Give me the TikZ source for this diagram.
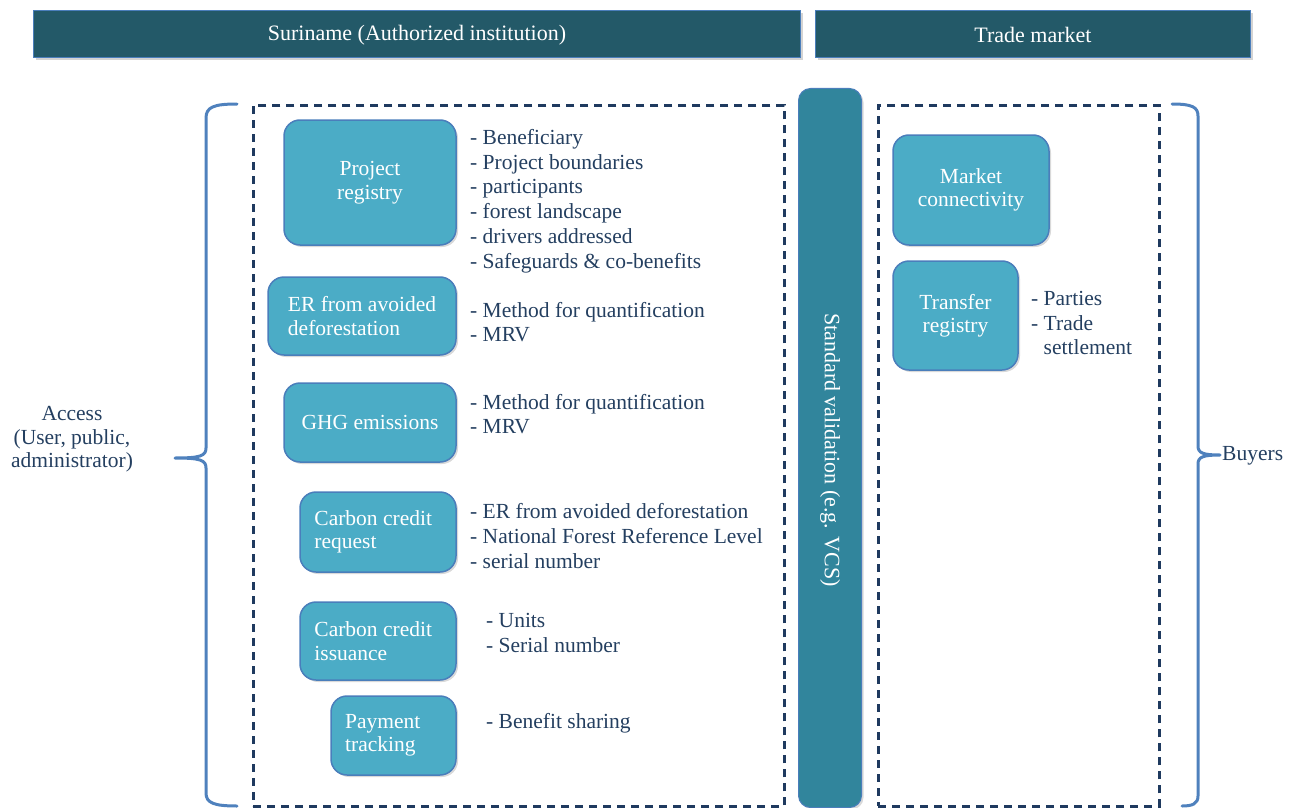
\documentclass[tikz,border=0pt]{standalone}
\usepackage{fontspec}
\setmainfont{Liberation Serif}
\usetikzlibrary{shadows}
\definecolor{hdr}{HTML}{235968}
\definecolor{bar}{HTML}{31859C}
\definecolor{boxfill}{HTML}{4BACC6}
\definecolor{boxline}{HTML}{4A7EBB}
\definecolor{navy}{HTML}{243F60}
\definecolor{brace}{HTML}{4F81BD}
\definecolor{dash}{HTML}{1F3A5F}
\tikzset{
  hdrbar/.style={draw=boxline, line width=1pt, fill=hdr, text=white, anchor=north west, inner sep=0pt,
    drop shadow={opacity=0.35, shadow xshift=2pt, shadow yshift=-3pt}},
  hdrtext/.style={text=white, inner sep=0pt, font=\fontsize{22}{26}\selectfont},
  itembox/.style={draw=boxline, line width=1.5pt, fill=boxfill, rounded corners=16pt, text=white, inner sep=0pt,
    font=\fontsize{21.5}{23.5}\selectfont, drop shadow={opacity=0.3, shadow xshift=2pt, shadow yshift=-2pt}},
  itemlist/.style={anchor=west, align=left, text=navy, inner sep=0pt, font=\fontsize{21.5}{24.8}\selectfont},
  dashbox/.style={draw=dash, line width=2.5pt, dash pattern=on 8pt off 6pt},
  bracepath/.style={draw=brace, line width=3pt, line cap=round, line join=round},
  sidelabel/.style={text=navy, align=center, inner sep=0pt, font=\fontsize{21.5}{23.5}\selectfont},
}
\begin{document}
\begin{tikzpicture}[x=1pt,y=-1pt]
\useasboundingbox (0,0) rectangle (1299,808);
% headers
\node[hdrbar, minimum width=767pt, minimum height=47pt] (h1) at (33,10) {};
\node[hdrtext] (h1t) at ([yshift=-1pt]h1.center) {Suriname (Authorized institution)};
\node[hdrbar, minimum width=435pt, minimum height=47pt] (h2) at (815,10) {};
\node[hdrtext] (h2t) at ([yshift=-1pt]h2.center) {Trade market};
% dashed frames
\node[dashbox, anchor=north west, minimum width=531pt, minimum height=701pt, inner sep=0pt] (lf) at (252,104) {};
\node[dashbox, anchor=north west, minimum width=281pt, minimum height=701pt, inner sep=0pt] (rf) at (877,104) {};
% vertical bar
\node[draw=boxline, line width=1pt, fill=bar, rounded corners=12pt, anchor=north west, minimum width=63pt, minimum height=719pt, inner sep=0pt,
  drop shadow={opacity=0.3, shadow xshift=2pt, shadow yshift=-2pt}] (vb) at (798,88) {};
\node[rotate=-90, hdrtext] (vbt) at (830,450) {Standard validation (e.g. VCS)};
% left boxes
\node[itembox, minimum width=172pt, minimum height=125pt, align=center] (pr) at (370,182.5) {Project\\registry};
\node[itembox, minimum width=188pt, minimum height=78pt, align=left] (er) at (362,316) {ER from avoided\\deforestation\phantom{ a}};
\node[itembox, minimum width=172pt, minimum height=79pt, align=center] (ghg) at (370,422.5) {GHG emissions};
\node[itembox, minimum width=156pt, minimum height=80pt, align=left] (ccr) at (378,532) {Carbon credit\\request\phantom{p credit}};
\node[itembox, minimum width=156pt, minimum height=78pt, align=left] (cci) at (378,641) {Carbon credit\\issuance\phantom{ credit}};
\node[itembox, minimum width=125pt, minimum height=79pt, align=left] (pt) at (393.5,735.5) {Payment\phantom{xx}\\tracking};
% right boxes
\node[itembox, minimum width=156pt, minimum height=110pt, align=center] (mc) at (971,190) {Market\\connectivity};
\node[itembox, minimum width=125pt, minimum height=109pt, align=center] (tr) at (955.5,315.5) {Transfer\\registry};
% lists
\node[itemlist] (l1) at (470,201) {- Beneficiary\\- Project boundaries\\- participants\\- forest landscape\\- drivers addressed\\- Safeguards \& co-benefits};
\node[itemlist] (l2) at (470,322) {- Method for quantification\\- MRV};
\node[itemlist] (l3) at (470,414) {- Method for quantification\\- MRV};
\node[itemlist] (l4) at (470,536) {- ER from avoided deforestation\\- National Forest Reference Level\\- serial number};
\node[itemlist] (l5) at (486,633) {- Units\\- Serial number};
\node[itemlist] (l6) at (486,723) {- Benefit sharing};
\node[itemlist] (l7) at (1031,323) {- Parties\\- Trade\\\phantom{- }settlement};
% side labels
\node[sidelabel] (acc) at (72,439.5) {Access\\(User, public,\\administrator)};
\node[sidelabel, anchor=west] (buy) at (1222,456) {Buyers};
% braces
\coordinate (lb1) at (237,104);
\coordinate (lb2) at (206,118);
\coordinate (lb3) at (206,448);
\coordinate (lbt) at (175,458);
\coordinate (lb4) at (206,468);
\coordinate (lb5) at (206,793);
\coordinate (lb6) at (237,806);
\draw[bracepath] (lb1) .. controls (214,104) and (206,107) .. (lb2) -- (lb3)
  .. controls (206,456) and (200,458) .. (lbt) .. controls (200,458) and (206,460) .. (lb4) -- (lb5)
  .. controls (206,803) and (214,806) .. (lb6);
\coordinate (rb1) at (1172,104);
\coordinate (rb2) at (1198,116);
\coordinate (rb3) at (1198,446);
\coordinate (rbt) at (1220,455);
\coordinate (rb4) at (1198,464);
\coordinate (rb5) at (1198,796);
\coordinate (rb6) at (1182,806);
\draw[bracepath] (rb1) .. controls (1192,104) and (1198,107) .. (rb2) -- (rb3)
  .. controls (1198,453) and (1203,455) .. (rbt) .. controls (1203,455) and (1198,457) .. (rb4) -- (rb5)
  .. controls (1198,804) and (1192,806) .. (rb6);
\end{tikzpicture}
\end{document}
